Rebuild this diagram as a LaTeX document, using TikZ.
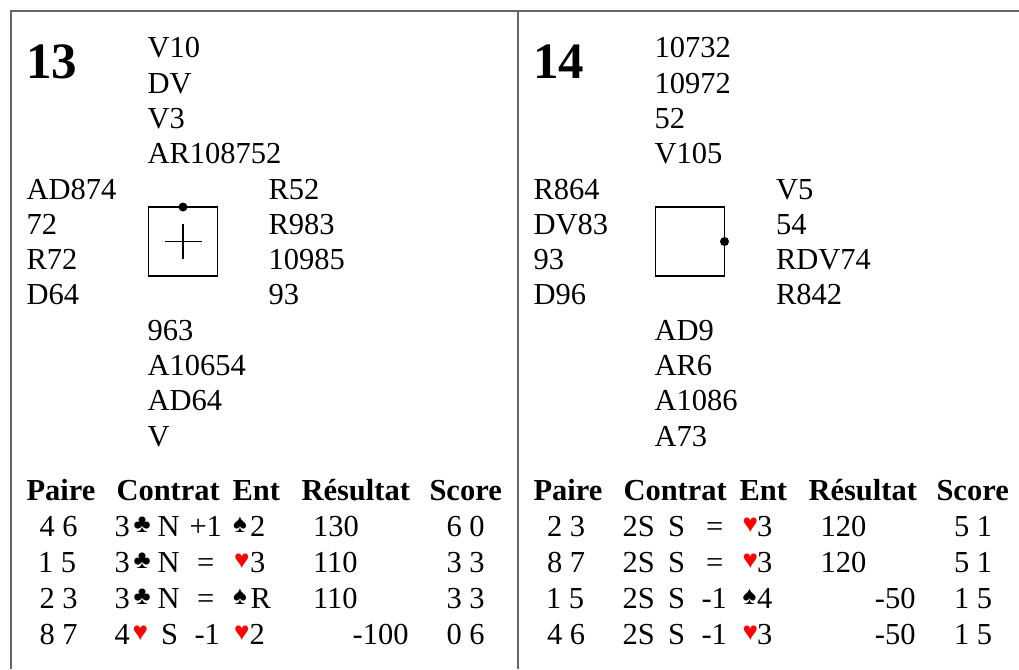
\documentclass[tikz,border=0pt]{standalone}
\usepackage{fontspec}
\setmainfont{Liberation Serif}
\begin{document}
\begin{tikzpicture}[x=1pt,y=-1pt,
  txt/.style={anchor=base west,inner sep=0pt,outer sep=0pt,font=\fontsize{30.5}{36}\selectfont},
  txtr/.style={txt,anchor=base east},
  hdr/.style={txt,font=\fontsize{30.5}{36}\selectfont\bfseries},
  ttl/.style={txt,font=\fontsize{51}{60}\selectfont\bfseries},
  suitb/.style={anchor=base west,inner sep=0pt,outer sep=0pt,font=\fontsize{26}{30}\selectfont,yshift=4pt},
  suitr/.style={suitb,text=red},
  frameline/.style={line width=1.6pt,draw=black!60},
  compass/.style={draw,line width=1.2pt,minimum size=69pt,inner sep=0pt,outer sep=0pt},
  cross/.style={line width=1.1pt},
  dealer/.style={fill=black}]
\useasboundingbox (0,0) rectangle (1019,669);
% frame
\draw[frameline] (11,669) -- (11,11) -- (1019,11);
\draw[frameline] (518,11) -- (518,669);
% board numbers
\node[ttl] (t13) at (26,78) {13};
\node[ttl] (t14) at (533,78) {14};
% hands
\newcommand\handcol[4]{%
  \foreach \t [count=\i] in {#4} {\node[txt] (#1\i) at (#2,{#3+35.3*(\i-1)}) {\t};}}
\handcol{LN}{147.5}{58}{V10,DV,V3,AR108752}
\handcol{LW}{26.5}{199}{AD874,72,R72,D64}
\handcol{LE}{268.5}{199}{R52,R983,10985,93}
\handcol{LS}{147.5}{340.2}{963,A10654,AD64,V}
\handcol{RN}{654.5}{58}{10732,10972,52,V105}
\handcol{RW}{533.5}{199}{R864,DV83,93,D96}
\handcol{RE}{776}{199}{V5,54,RDV74,R842}
\handcol{RS}{654.5}{340.2}{AD9,AR6,A1086,A73}
% compass boxes
\node[compass] (bx1) at (183,241.5) {};
\fill[dealer] (bx1.north) circle (4.5);
\draw[cross] ([xshift=-18.5pt]bx1.center) -- ([xshift=18.5pt]bx1.center);
\draw[cross] ([yshift=-17.5pt]bx1.center) -- ([yshift=17.5pt]bx1.center);
\node[compass] (bx2) at (690,241.5) {};
\fill[dealer] (bx2.east) circle (4.5);
% ---- left table ----
\node[hdr] (LH1) at (26.5,500) {Paire};
\node[hdr] (LH2) at (116.5,500) {Contrat};
\node[hdr] (LH3) at (232.5,500) {Ent};
\node[hdr] (LH4) at (301.5,500) {Résultat};
\node[hdr] (LH5) at (429.5,500) {Score};
% row 1
\node[txt] (L1a) at (39.5,536) {4 6};
\node[txt] (L1b) at (114.5,536) {3};
\node[suitb] (L1c) at (133.5,536) {♣};
\node[txt] (L1d) at (157.5,536) {N};
\node[txt] (L1e) at (189.5,536) {+1};
\node[suitb] (L1f) at (233,536) {♠};
\node[txt] (L1g) at (250,536) {2};
\node[txt] (L1h) at (313,536) {130};
\node[txt] (L1i) at (446.5,536) {6 0};
% row 2
\node[txt] (L2a) at (38,572.5) {1 5};
\node[txt] (L2b) at (114.5,572.5) {3};
\node[suitb] (L2c) at (133.5,572.5) {♣};
\node[txt] (L2d) at (157.5,572.5) {N};
\node[txt] (L2e) at (197,572.5) {=};
\node[suitr] (L2f) at (234,572.5) {♥};
\node[txt] (L2g) at (250,572.5) {3};
\node[txt] (L2h) at (313,572.5) {110};
\node[txt] (L2i) at (446.5,572.5) {3 3};
% row 3
\node[txt] (L3a) at (39.5,608.5) {2 3};
\node[txt] (L3b) at (114.5,608.5) {3};
\node[suitb] (L3c) at (133.5,608.5) {♣};
\node[txt] (L3d) at (157.5,608.5) {N};
\node[txt] (L3e) at (197,608.5) {=};
\node[suitb] (L3f) at (233,608.5) {♠};
\node[txt] (L3g) at (250.5,608.5) {R};
\node[txt] (L3h) at (313,608.5) {110};
\node[txt] (L3i) at (446.5,608.5) {3 3};
% row 4
\node[txt] (L4a) at (39.5,644.5) {8 7};
\node[txt] (L4b) at (114.5,644.5) {4};
\node[suitr] (L4c) at (132.5,644.5) {♥};
\node[txt] (L4d) at (161,644.5) {S};
\node[txt] (L4e) at (194.5,644.5) {-1};
\node[suitr] (L4f) at (234,644.5) {♥};
\node[txt] (L4g) at (249.5,644.5) {2};
\node[txtr] (L4h) at (408.5,644.5) {-100};
\node[txt] (L4i) at (446.5,644.5) {0 6};
% ---- right table ----
\node[hdr] (RH1) at (533.5,500) {Paire};
\node[hdr] (RH2) at (623.5,500) {Contrat};
\node[hdr] (RH3) at (739.5,500) {Ent};
\node[hdr] (RH4) at (808.5,500) {Résultat};
\node[hdr] (RH5) at (936.5,500) {Score};
% row 1
\node[txt] (R1a) at (547,536) {2 3};
\node[txt] (R1b) at (622.5,536) {2S};
\node[txt] (R1c) at (668,536) {S};
\node[txt] (R1d) at (706,536) {=};
\node[suitr] (R1e) at (742.5,536) {♥};
\node[txt] (R1f) at (757,536) {3};
\node[txt] (R1g) at (820.5,536) {120};
\node[txt] (R1h) at (954,536) {5 1};
% row 2
\node[txt] (R2a) at (547,572.5) {8 7};
\node[txt] (R2b) at (622.5,572.5) {2S};
\node[txt] (R2c) at (668,572.5) {S};
\node[txt] (R2d) at (706,572.5) {=};
\node[suitr] (R2e) at (742.5,572.5) {♥};
\node[txt] (R2f) at (757,572.5) {3};
\node[txt] (R2g) at (820.5,572.5) {120};
\node[txt] (R2h) at (954,572.5) {5 1};
% row 3
\node[txt] (R3a) at (546,608.5) {1 5};
\node[txt] (R3b) at (622.5,608.5) {2S};
\node[txt] (R3c) at (668,608.5) {S};
\node[txt] (R3d) at (701.5,608.5) {-1};
\node[suitb] (R3e) at (742.5,608.5) {♠};
\node[txt] (R3f) at (757,608.5) {4};
\node[txtr] (R3g) at (915.5,608.5) {-50};
\node[txt] (R3h) at (954,608.5) {1 5};
% row 4
\node[txt] (R4a) at (547,644.5) {4 6};
\node[txt] (R4b) at (622.5,644.5) {2S};
\node[txt] (R4c) at (668,644.5) {S};
\node[txt] (R4d) at (701.5,644.5) {-1};
\node[suitr] (R4e) at (742.5,644.5) {♥};
\node[txt] (R4f) at (757,644.5) {3};
\node[txtr] (R4g) at (915.5,644.5) {-50};
\node[txt] (R4h) at (954,644.5) {1 5};
\end{tikzpicture}
\end{document}
